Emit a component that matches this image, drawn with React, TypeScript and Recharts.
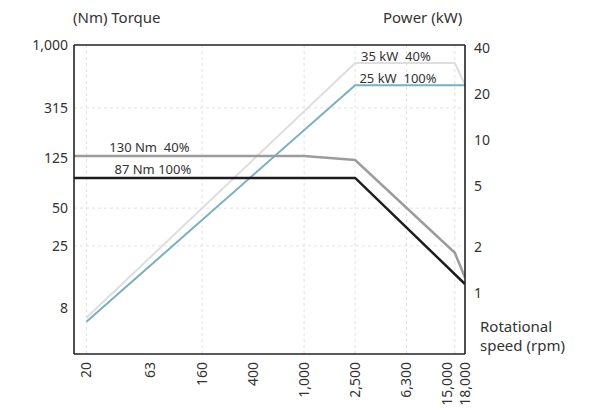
import React from 'react';
import { LineChart, Line, XAxis, YAxis, ReferenceLine, ReferenceDot } from 'recharts';

const rpmTicks = [20, 63, 160, 400, 1000, 2500, 6300, 15000, 18000];
const torqueTicks = [8, 25, 50, 125, 315, 1000];
const powerTicks = [1, 2, 5, 10, 20, 40];
const gridRpm = [20, 160, 1000, 2500, 6300, 15000];
const gridTorque = [315, 50, 25];

const torque100 = [
  { rpm: 16, value: 87 },
  { rpm: 2500, value: 87 },
  { rpm: 18000, value: 12.4 },
];
const torque40 = [
  { rpm: 16, value: 130 },
  { rpm: 1000, value: 130 },
  { rpm: 2500, value: 121 },
  { rpm: 15000, value: 22 },
  { rpm: 18000, value: 14 },
];
const power100 = [
  { rpm: 20, value: 0.65 },
  { rpm: 2500, value: 22.9 },
  { rpm: 18000, value: 22.9 },
];
const power40 = [
  { rpm: 20, value: 0.69 },
  { rpm: 2500, value: 32 },
  { rpm: 15000, value: 32 },
  { rpm: 18000, value: 23 },
];

const torqueNotes = [
  { rpm: 62, value: 130, text: '130 Nm\u00a0 40%' },
  { rpm: 66, value: 87, text: '87 Nm 100%' },
];
const powerNotes = [
  { rpm: 5200, value: 32, text: '35 kW\u00a0 40%' },
  { rpm: 5400, value: 22.9, text: '25 kW\u00a0 100%' },
];

const FONT = '"Noto Sans", "Open Sans", sans-serif';
const TXT = '#333';

const fmt = (v: number) => v.toLocaleString('en-US');

const XTick = (props: any) => {
  const { x, y, payload } = props;
  // the two crowded end labels are spread apart a little, as in the reference
  const px = payload.value === 15000 ? x - 8 : x;
  return (
    <text
      x={px}
      y={y}
      transform={`rotate(-90, ${px}, ${y})`}
      textAnchor="end"
      dy="0.35em"
      fontSize={14}
      fontFamily={FONT}
      fill={TXT}
    >
      {fmt(payload.value)}
    </text>
  );
};

export default function App() {
  return (
    <div style={{ position: 'absolute', left: 0, top: 0, width: 604, height: 410, background: '#fff', fontFamily: FONT }}>
      <LineChart width={604} height={410} margin={{ top: 45, right: 79, bottom: 6, left: 14 }}>
        <XAxis
          xAxisId="x"
          type="number"
          dataKey="rpm"
          scale="log"
          domain={[16, 18000]}
          allowDataOverflow
          ticks={rpmTicks}
          interval={0}
          tick={<XTick />}
          tickLine={false}
          height={50}
          axisLine={{ stroke: '#222', strokeWidth: 1.6 }}
        />
        <YAxis
          yAxisId="left"
          orientation="left"
          type="number"
          scale="log"
          domain={[3.43, 1000]}
          allowDataOverflow
          ticks={torqueTicks}
          interval={0}
          tickFormatter={fmt}
          tickLine={false}
          tickSize={4}
          tickMargin={2}
          width={60}
          tick={{ fontSize: 14, fill: TXT, fontFamily: FONT }}
          axisLine={{ stroke: '#222', strokeWidth: 1.6 }}
        />
        <YAxis
          yAxisId="right"
          orientation="right"
          type="number"
          scale="log"
          domain={[0.4, 42]}
          allowDataOverflow
          ticks={powerTicks}
          interval={0}
          tickLine={false}
          tickSize={6}
          tickMargin={3}
          width={60}
          tick={{ fontSize: 14, fill: TXT, fontFamily: FONT, textAnchor: 'start' }}
          axisLine={{ stroke: '#222', strokeWidth: 1.6 }}
        />
        {gridRpm.map((r) => (
          <ReferenceLine key={'gx' + r} xAxisId="x" yAxisId="left" x={r} stroke="#e2e2e2" strokeDasharray="3 3" />
        ))}
        {gridTorque.map((t) => (
          <ReferenceLine key={'gy' + t} xAxisId="x" yAxisId="left" y={t} stroke="#e2e2e2" strokeDasharray="3 3" />
        ))}
        <ReferenceLine xAxisId="x" yAxisId="left" y={1000} stroke="#222" strokeWidth={1.6} />
        <Line
          xAxisId="x"
          yAxisId="right"
          data={power40}
          dataKey="value"
          type="linear"
          stroke="#dedede"
          strokeWidth={2}
          dot={false}
          isAnimationActive={false}
        />
        <Line
          xAxisId="x"
          yAxisId="right"
          data={power100}
          dataKey="value"
          type="linear"
          stroke="#7aafc2"
          strokeWidth={2}
          dot={false}
          isAnimationActive={false}
        />
        <Line
          xAxisId="x"
          yAxisId="left"
          data={torque40}
          dataKey="value"
          type="linear"
          stroke="#9c9c9c"
          strokeWidth={2.5}
          dot={false}
          isAnimationActive={false}
        />
        <Line
          xAxisId="x"
          yAxisId="left"
          data={torque100}
          dataKey="value"
          type="linear"
          stroke="#1c1c1c"
          strokeWidth={2.5}
          dot={false}
          isAnimationActive={false}
        />
        {torqueNotes.map((n) => (
          <ReferenceDot
            key={n.text}
            xAxisId="x"
            yAxisId="left"
            x={n.rpm}
            y={n.value}
            r={0}
            fill="none"
            stroke="none"
            label={{ value: n.text, position: 'top', offset: 4, fontSize: 13, fill: TXT, fontFamily: FONT }}
          />
        ))}
        {powerNotes.map((n) => (
          <ReferenceDot
            key={n.text}
            xAxisId="x"
            yAxisId="right"
            x={n.rpm}
            y={n.value}
            r={0}
            fill="none"
            stroke="none"
            label={{ value: n.text, position: 'top', offset: 2, fontSize: 13, fill: TXT, fontFamily: FONT }}
          />
        ))}
      </LineChart>
      <div style={{ position: 'absolute', left: 73, top: 8, fontSize: 15, lineHeight: '19px', color: TXT, whiteSpace: 'nowrap' }}>
        (Nm) Torque
      </div>
      <div style={{ position: 'absolute', left: 383, top: 8, fontSize: 15, lineHeight: '19px', color: TXT, whiteSpace: 'nowrap' }}>
        Power (kW)
      </div>
      <div style={{ position: 'absolute', left: 480, top: 317, fontSize: 15, lineHeight: '19px', color: TXT, whiteSpace: 'nowrap' }}>
        Rotational
        <br />
        speed (rpm)
      </div>
    </div>
  );
}
